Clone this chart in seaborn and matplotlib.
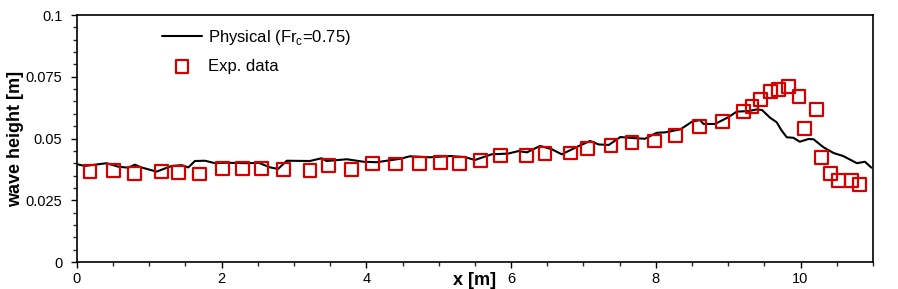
import numpy as np
import pandas as pd
import matplotlib
matplotlib.use("Agg")
import matplotlib.pyplot as plt
from matplotlib.ticker import MultipleLocator, FuncFormatter
import seaborn as sns

# Simulated ("Physical") wave height line
sim_x = [0.00, 0.11, 0.41, 0.57, 0.71, 0.80, 0.89, 1.10, 1.31, 1.45, 1.54, 1.63, 1.77,
         1.91, 2.05, 2.37, 2.51, 2.67, 2.78, 2.90, 3.22, 3.38, 3.45, 3.73, 3.96, 4.14,
         4.47, 4.60, 4.88, 5.16, 5.36, 5.50, 5.73, 5.96, 6.10, 6.22, 6.40, 6.56, 6.70,
         6.91, 7.09, 7.21, 7.35, 7.51, 7.67, 7.85, 8.01, 8.13, 8.34, 8.50, 8.61, 8.66,
         8.82, 9.00, 9.12, 9.28, 9.40, 9.47, 9.58, 9.67, 9.74, 9.81, 9.90, 9.99, 10.11,
         10.18, 10.32, 10.46, 10.59, 10.78, 10.89, 10.98]
sim_h = [0.0396, 0.0389, 0.0400, 0.0386, 0.0382, 0.0394, 0.0383, 0.0366, 0.0389, 0.0392,
         0.0383, 0.0409, 0.0410, 0.0400, 0.0402, 0.0400, 0.0402, 0.0383, 0.0377, 0.0410,
         0.0409, 0.0420, 0.0409, 0.0416, 0.0406, 0.0404, 0.0418, 0.0428, 0.0424, 0.0429,
         0.0425, 0.0413, 0.0436, 0.0439, 0.0449, 0.0444, 0.0470, 0.0457, 0.0436, 0.0466,
         0.0490, 0.0476, 0.0474, 0.0506, 0.0502, 0.0499, 0.0523, 0.0525, 0.0537, 0.0568,
         0.0575, 0.0559, 0.0559, 0.0586, 0.0609, 0.0611, 0.0618, 0.0615, 0.0584, 0.0566,
         0.0532, 0.0505, 0.0503, 0.0487, 0.0498, 0.0497, 0.0464, 0.0441, 0.0429, 0.0400,
         0.0406, 0.0382]

# Experimental data
exp_x = [0.18, 0.51, 0.80, 1.17, 1.40, 1.69, 2.01, 2.29, 2.55, 2.86, 3.22, 3.48, 3.79,
         4.08, 4.40, 4.73, 5.02, 5.29, 5.58, 5.85, 6.21, 6.47, 6.82, 7.06, 7.38, 7.67,
         7.98, 8.27, 8.60, 8.92, 9.21, 9.33, 9.45, 9.59, 9.70, 9.83, 9.98, 10.06, 10.22,
         10.29, 10.42, 10.53, 10.71, 10.81]
exp_h = [0.0368, 0.0370, 0.0357, 0.0368, 0.0362, 0.0356, 0.0380, 0.0380, 0.0379, 0.0376,
         0.0370, 0.0390, 0.0376, 0.0400, 0.0397, 0.0400, 0.0404, 0.0398, 0.0410, 0.0430,
         0.0430, 0.0439, 0.0441, 0.0459, 0.0471, 0.0483, 0.0490, 0.0511, 0.0548, 0.0568,
         0.0609, 0.0629, 0.0657, 0.0691, 0.0699, 0.0710, 0.0669, 0.0540, 0.0617, 0.0422,
         0.0357, 0.0329, 0.0329, 0.0313]

line_label = r"Physical (Fr$_\mathrm{c}$=0.75)"
exp_label = "Exp. data"

sns.set_theme(style="ticks")
plt.rcParams["font.family"] = ["Liberation Sans", "DejaVu Sans"]
plt.rcParams["mathtext.fontset"] = "custom"
plt.rcParams["mathtext.rm"] = "Liberation Sans"
plt.rcParams["text.color"] = "black"
plt.rcParams["axes.labelcolor"] = "black"

fig = plt.figure(figsize=(8.98, 2.89), dpi=100)
ax = fig.add_axes([0.0857, 0.0934, 0.8863, 0.8546])

sim_df = pd.DataFrame({"x": sim_x, "h": sim_h})
exp_df = pd.DataFrame({"x": exp_x, "h": exp_h})

sns.lineplot(data=sim_df, x="x", y="h", ax=ax, color="black", lw=1.5,
             sort=False, estimator=None, label=line_label)
sns.scatterplot(data=exp_df, x="x", y="h", ax=ax, marker="s", s=85,
                facecolor="none", edgecolor="#d40000", linewidth=1.6,
                label=exp_label, zorder=3)

ax.set_xlim(0, 11)
ax.set_ylim(0, 0.1)
ax.xaxis.set_major_locator(MultipleLocator(2))
ax.xaxis.set_minor_locator(MultipleLocator(0.5))
ax.yaxis.set_major_locator(MultipleLocator(0.025))
ax.yaxis.set_minor_locator(MultipleLocator(0.005))
ax.yaxis.set_major_formatter(FuncFormatter(lambda v, p: f"{v:g}"))
ax.xaxis.set_major_formatter(FuncFormatter(lambda v, p: f"{v:g}"))
ax.tick_params(which="major", direction="out", length=4.5, width=1, labelsize=10.5, colors="black")
ax.tick_params(axis="y", which="major", pad=6)
ax.tick_params(axis="x", which="major", pad=2.5)
ax.tick_params(which="minor", direction="out", length=3, width=1)
for s in ax.spines.values():
    s.set_visible(True)
    s.set_linewidth(1.2)
    s.set_color("black")

ax.set_xlabel("x [m]", fontsize=13, fontweight="bold")
ax.xaxis.set_label_coords(0.5, -0.075)
ax.xaxis.label.set_va("center")
ax.set_ylabel("wave height [m]", fontsize=13, fontweight="bold")
ax.yaxis.set_label_coords(-0.077, 0.5)
ax.yaxis.label.set_va("center")

leg = ax.legend(loc="upper left", bbox_to_anchor=(0.088, 1.01), frameon=False,
                fontsize=12, handlelength=2.4, labelspacing=0.75, handletextpad=0.35)

fig.savefig("out.png", dpi=100)
